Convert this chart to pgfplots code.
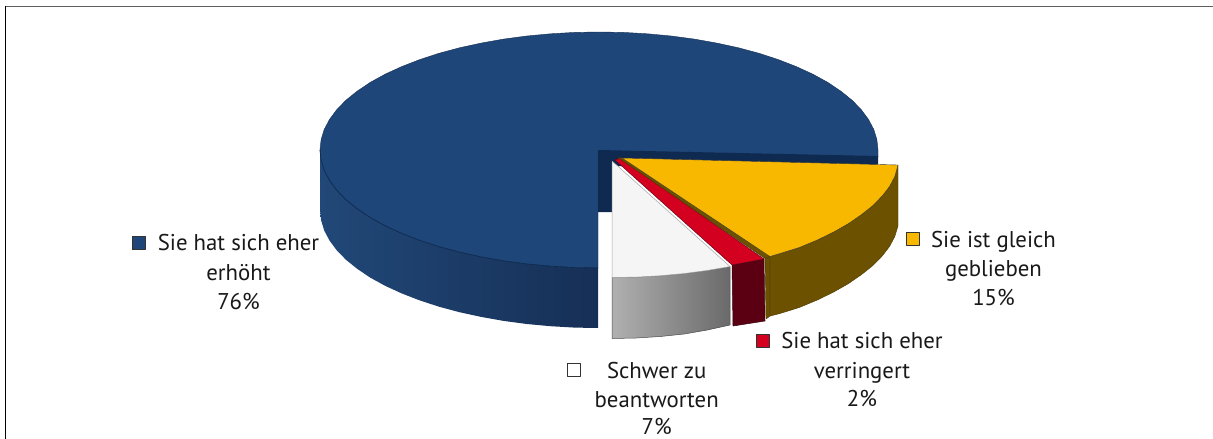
\documentclass[border=0pt]{standalone}
\usepackage{fontspec}
\setmainfont{PT Sans}
\usepackage{pgfplots}
\pgfplotsset{compat=1.18}
\definecolor{bluetop}{HTML}{1F4679}
\definecolor{bluel}{HTML}{214878}
\definecolor{bluem}{HTML}{1C3D6C}
\definecolor{bluer}{HTML}{162F56}
\definecolor{navy}{HTML}{0E2A50}
\definecolor{yel}{HTML}{F8B800}
\definecolor{olive}{HTML}{6B5100}
\definecolor{redtop}{HTML}{D4001F}
\definecolor{redside}{HTML}{5A0012}
\definecolor{whitetop}{HTML}{F5F5F5}
\definecolor{edge}{HTML}{3A3A3A}
\definecolor{grayl}{HTML}{B0B0B0}
\definecolor{graym}{HTML}{979797}
\definecolor{grayr}{HTML}{6A6A6A}
\definecolor{frameg}{HTML}{606060}
\begin{document}
\begin{tikzpicture}
\begin{axis}[
  scale only axis, width=1213pt, height=439pt,
  xmin=0, xmax=1213, ymin=0, ymax=439, y dir=reverse,
  hide axis, clip=true,
  every axis plot/.append style={line join=round},
]
% page extent
\addplot[fill=white, draw=none] coordinates {(0,0)(1213,0)(1213,439)(0,439)} -- cycle;
% frame
\addplot[draw=frameg, line width=1.8pt] coordinates {(5,6.5) (1213,6.5)};
\addplot[draw=black, line width=1.3pt] coordinates {(5.5,6) (5.5,439)};
% Sie hat sich eher erhoeht: top face
\addplot[fill=bluetop, draw=bluer, line width=0.4pt] coordinates {
(598,152)(878,157)(878,150)(876.9,139.7)(873.8,129.5)(868.5,119.5)(861.2,109.6)(851.9,100.1)(840.6,91)(827.6,82.3)(812.7,74.1)(796.3,66.6)(778.3,59.6)(759,53.3)(738.5,47.8)(716.9,43.1)(694.4,39.1)(671.2,36)(647.4,33.8)(623.3,32.4)(599,32)
(574.7,32.4)(550.6,33.8)(526.8,36)(503.6,39.1)(481.1,43.1)(459.5,47.8)(439,53.3)(419.7,59.6)(401.7,66.6)(385.3,74.1)(370.4,82.3)(357.4,91)(346.1,100.1)(336.8,109.6)(329.5,119.5)(324.2,129.5)(321.1,139.7)(320,150)
(321.1,160.3)(324.2,170.5)(329.5,180.5)(336.8,190.4)(346.1,199.9)(357.4,209)(370.4,217.7)(385.3,225.9)(401.7,233.4)(419.7,240.4)(439,246.7)(459.5,252.2)(481.1,256.9)(503.6,260.9)(526.8,264)(550.6,266.2)(574.7,267.6)(598,268)
} -- cycle;
% blue side
\addplot[left color=bluel, middle color=bluem, right color=bluer, draw=none] coordinates {
(320,150)(321.1,160.3)(324.2,170.5)(329.5,180.5)(336.8,190.4)(346.1,199.9)(357.4,209)(370.4,217.7)(385.3,225.9)(401.7,233.4)(419.7,240.4)(439,246.7)(459.5,252.2)(481.1,256.9)(503.6,260.9)(526.8,264)(550.6,266.2)(574.7,267.6)(598,268)
(598,328)(574.7,327.6)(550.6,326.2)(526.8,324)(503.6,320.9)(481.1,316.9)(459.5,312.2)(439,306.7)(419.7,300.4)(401.7,293.4)(385.3,285.9)(370.4,277.7)(357.4,269)(346.1,259.9)(336.8,250.4)(329.5,240.5)(324.2,230.5)(321.1,220.3)(320,210)
} -- cycle;
\addplot[draw=navy, line width=0.7pt] coordinates {
(320,150)(321.1,160.3)(324.2,170.5)(329.5,180.5)(336.8,190.4)(346.1,199.9)(357.4,209)(370.4,217.7)(385.3,225.9)(401.7,233.4)(419.7,240.4)(439,246.7)(459.5,252.2)(481.1,256.9)(503.6,260.9)(526.8,264)(550.6,266.2)(574.7,267.6)(598,268)
};
% inner walls of the blue slice
\addplot[fill=navy, draw=none] coordinates {(598,150)(878,156)(878,166)(612,166)(612,212)(598,212)} -- cycle;
% Schwer zu beantworten
\addplot[left color=grayl, middle color=graym, right color=grayr, draw=gray!60!black, line width=0.5pt] coordinates {(612,277.5)(636.3,277.1)(660.4,275.7)(684.2,273.5)(707.4,270.4)(730,266.5)(730,325)(707.4,330)(684.2,334)(660.4,336.5)(636.3,338)(612,338.5)} -- cycle;
\addplot[fill=whitetop, draw=gray!70, line width=0.5pt] coordinates {(612,161)(730,266.5)(707.4,270.4)(684.2,273.5)(660.4,275.7)(636.3,277.1)(612,277.5)} -- cycle;
% Sie hat sich eher verringert
\addplot[fill=redside, draw=redside!60!black, line width=0.5pt] coordinates {(732,265)(764,259)(765,321)(733,326)} -- cycle;
\addplot[fill=redtop, draw=redside, line width=0.4pt] coordinates {(615,160)(620,158)(764,259)(732,265)} -- cycle;
% Sie ist gleich geblieben
\addplot[fill=olive, draw=olive!70!black, line width=0.4pt] coordinates {(765,258)(770,256.5)(770,316)(766,319)} -- cycle;
\addplot[fill=olive, draw=olive!70!black, line width=0.4pt] coordinates {(618,157.5)(622,158)(770,256.5)(765,258.5)} -- cycle;
\addplot[fill=olive, draw=olive!70!black, line width=0.4pt] coordinates {
(898,165)(894.8,176.5)(889.5,186.5)(882.2,196)(872.9,205.5)(861.6,214.5)(848.6,223.5)(833.7,232)(817.3,240)(799.3,247.5)(780,253.5)(770,256.5)
(770,316)(780,313.5)(799.3,307.5)(817.3,300)(833.7,292)(848.6,283.5)(861.6,274.5)(872.9,265.5)(882.2,256)(889.5,246.5)(894.8,236.5)(898,226)} -- cycle;
\addplot[fill=yel, draw=edge, line width=0.4pt] coordinates {
(622,158)(898,165)(894.8,176.5)(889.5,186.5)(882.2,196)(872.9,205.5)(861.6,214.5)(848.6,223.5)(833.7,232)(817.3,240)(799.3,247.5)(780,253.5)(770,256.5)} -- cycle;
% legend keys
\addplot[fill=bluetop, draw=black!80, line width=0.5pt] coordinates {(132,236.5)(145,236.5)(145,249.5)(132,249.5)} -- cycle;
\addplot[fill=yel, draw=black!80, line width=0.5pt] coordinates {(906.5,232.5)(919.5,232.5)(919.5,245.5)(906.5,245.5)} -- cycle;
\addplot[fill=redtop, draw=black!80, line width=0.5pt] coordinates {(756,334)(769,334)(769,347)(756,347)} -- cycle;
\addplot[fill=white, draw=black!80, line width=0.5pt] coordinates {(567,363)(580,363)(580,376)(567,376)} -- cycle;
% labels
\tikzset{lab/.style={anchor=base, inner sep=0pt, font=\fontsize{22.8}{24}\selectfont, text=black!90}}
\node[lab] at (axis cs:238.5,250.7) {Sie hat sich eher};
\node[lab] at (axis cs:238.5,280) {erhöht};
\node[lab] at (axis cs:238.5,309) {76\%};
\node[lab] at (axis cs:993.5,247) {Sie ist gleich};
\node[lab] at (axis cs:993.5,276.7) {geblieben};
\node[lab] at (axis cs:993.5,305) {15\%};
\node[lab] at (axis cs:862,348) {Sie hat sich eher};
\node[lab] at (axis cs:862,378) {verringert};
\node[lab] at (axis cs:862,406) {2\%};
\node[lab] at (axis cs:656.7,378) {Schwer zu};
\node[lab] at (axis cs:656.7,407) {beantworten};
\node[lab] at (axis cs:656.7,434.5) {7\%};
\end{axis}
\end{tikzpicture}
\end{document}
